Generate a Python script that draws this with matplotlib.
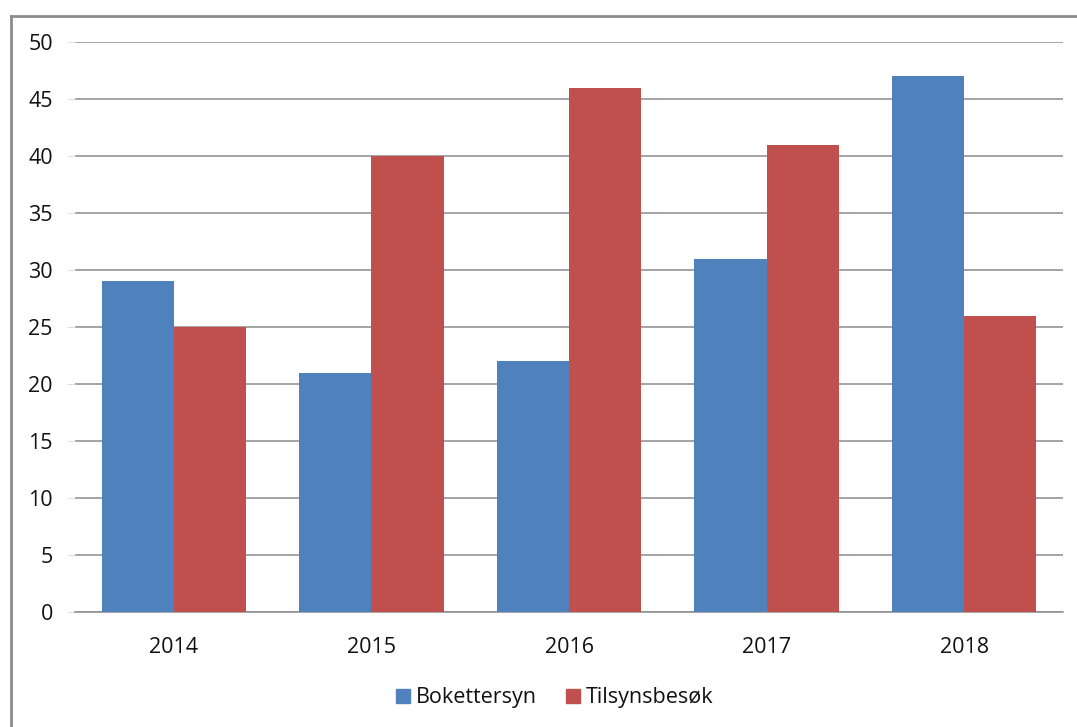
import matplotlib.pyplot as plt
import numpy as np
from matplotlib.lines import Line2D

years = ["2014", "2015", "2016", "2017", "2018"]
bokettersyn = [29, 21, 22, 31, 47]
tilsynsbesok = [25, 40, 46, 41, 26]
series_names = ["Bokettersyn", "Tilsynsbesøk"]

BLUE = "#4F81BD"
RED = "#C0504D"
GRID = "#8C8C8C"

plt.rcParams["font.family"] = ["Open Sans", "DejaVu Sans"]

fig = plt.figure(figsize=(10.77, 7.27), dpi=100)
ax = fig.add_axes([75 / 1077, 1 - 612 / 727, (1063 - 75) / 1077, (612 - 42) / 727])

x = np.arange(len(years))
w = 0.365
ax.bar(x - w / 2, bokettersyn, width=w, color=BLUE, label=series_names[0], zorder=3)
ax.bar(x + w / 2, tilsynsbesok, width=w, color=RED, label=series_names[1], zorder=3)

ax.set_xlim(-0.5, len(years) - 0.5)
ax.set_ylim(0, 50)
ax.set_yticks(range(0, 51, 5))
ax.set_xticks(x)
ax.set_xticklabels(years)
ax.yaxis.grid(True, color=GRID, linewidth=1.1, zorder=0)
ax.set_axisbelow(True)
for side in ("top", "right", "left"):
    ax.spines[side].set_visible(False)
ax.spines["bottom"].set_color(GRID)
ax.spines["bottom"].set_linewidth(1.1)
ax.tick_params(axis="x", length=0, labelsize=15.5, pad=18, colors="#111111")
ax.tick_params(axis="y", length=6, color="#E0E0E0", labelsize=15.5, pad=10, labelcolor="#111111")

handles = [Line2D([], [], marker="s", linestyle="none", markersize=9.5, color=c) for c in (BLUE, RED)]
fig.legend(handles, series_names, loc="center", bbox_to_anchor=(555 / 1077, 1 - 698 / 727),
           ncol=2, frameon=False, fontsize=15.5, handlelength=0.6, handletextpad=0.3,
           columnspacing=1.4, labelcolor="#111111")

# outer chart frame (left and top edges visible)
fig.add_artist(Line2D([11 / 1077, 11 / 1077], [0, 1 - 16 / 727], transform=fig.transFigure,
                      color="#8C8C8C", linewidth=2))
fig.add_artist(Line2D([11 / 1077, 1], [1 - 16 / 727, 1 - 16 / 727], transform=fig.transFigure,
                      color="#8C8C8C", linewidth=2))

fig.savefig("out.png", dpi=100, facecolor="white")
